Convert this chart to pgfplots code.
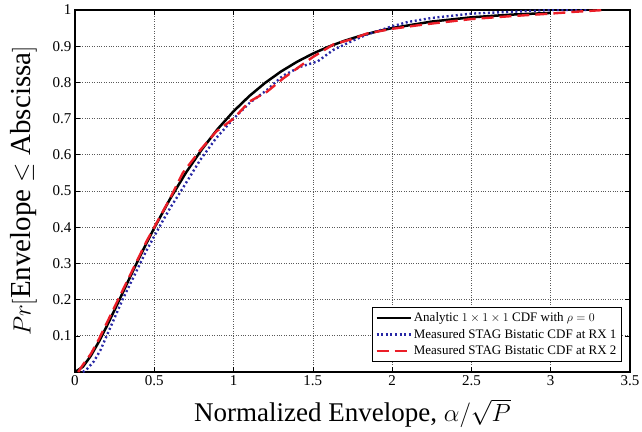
\documentclass[border=0pt]{standalone}
\usepackage{pgfplots}
\pgfplotsset{compat=1.18}
\usepackage{fontspec}
\setmainfont{Liberation Serif}
\definecolor{myblue}{RGB}{40,40,165}
\definecolor{myred}{RGB}{235,30,40}
\begin{document}
\begin{tikzpicture}
\begin{axis}[
  scale only axis,
  width=555pt, height=362pt,
  xmin=0, xmax=3.5, ymin=0, ymax=1,
  xtick={0,0.5,...,3.5},
  xticklabels={0,0.5,1,1.5,2,2.5,3,3.5},
  ytick={0.1,0.2,0.3,0.4,0.5,0.6,0.7,0.8,0.9,1},
  yticklabels={0.1,0.2,0.3,0.4,0.5,0.6,0.7,0.8,0.9,1},
  tick align=inside,
  major tick length=5pt,
  tick style={black, line width=0.6pt},
  xtick pos=both, ytick pos=both,
  grid=major,
  major grid style={dotted, black!65, line width=0.7pt},
  axis line style={line width=1.2pt},
  tick label style={font=\fontsize{15}{18}\selectfont},
  /pgf/number format/assume math mode=true,
  xlabel={Normalized Envelope, $\alpha/\sqrt{P}$},
  ylabel={$Pr\Big[$Envelope $\leq$ Abscissa$\Big]$},
  xlabel style={font=\fontsize{27}{32}\selectfont, inner sep=1pt, yshift=-9pt},
  ylabel style={font=\fontsize{29}{38}\selectfont, yshift=9pt},
  legend style={at={(axis cs:3.45,0.028)}, anchor=south east,
    draw=black, line width=1.2pt, fill=white,
    font=\fontsize{13}{15}\selectfont,
    inner sep=3pt, row sep=2pt,
    legend cell align=left},
  legend image post style={line width=2.4pt},
  legend image code/.code={\draw[#1] (0pt,0pt) -- (34pt,0pt);},
]
\addplot[black, line width=2.5pt] coordinates {
(0,0) (0.05,0.0146) (0.1,0.0448) (0.15,0.0832) (0.2,0.1262) (0.25,0.1718)
(0.3,0.2183) (0.35,0.2648) (0.4,0.3106) (0.45,0.3551) (0.5,0.3981)
(0.6,0.4785) (0.7,0.5509) (0.8,0.6150) (0.9,0.6713) (1.0,0.7202)
(1.1,0.7626) (1.2,0.7991) (1.3,0.8303) (1.4,0.8569) (1.5,0.8795)
(1.6,0.8988) (1.7,0.9150) (1.8,0.9288) (1.9,0.9403) (2.0,0.9501)
(2.25,0.9681) (2.5,0.9798) (2.75,0.9872) (3.0,0.9919)
};
\addlegendentry{Analytic $1\times1\times1$ CDF with $\rho=0$}
\addplot[myblue, line width=2.4pt, dash pattern=on 2pt off 2.6pt] coordinates {
(0.05,0) (0.08,0.01) (0.12,0.03) (0.16,0.06) (0.2,0.1) (0.25,0.15)
(0.3,0.2) (0.35,0.245) (0.4,0.29) (0.45,0.335) (0.5,0.375) (0.55,0.415)
(0.6,0.453) (0.68,0.508) (0.79,0.586) (0.89,0.646) (1.0,0.70) (1.1,0.743)
(1.21,0.779) (1.31,0.818) (1.42,0.843) (1.53,0.858) (1.63,0.89) (1.75,0.915)
(1.84,0.932) (2.0,0.955) (2.1,0.967) (2.25,0.978) (2.5,0.99) (2.75,0.995)
(3.0,1.0) (3.24,1.0)
};
\addlegendentry{Measured STAG Bistatic CDF at RX 1}
\addplot[myred, line width=2.4pt, dash pattern=on 12pt off 6pt] coordinates {
(0.02,0) (0.05,0.02) (0.1,0.05) (0.15,0.09) (0.2,0.135) (0.25,0.18)
(0.3,0.225) (0.35,0.27) (0.4,0.315) (0.45,0.36) (0.5,0.40) (0.6,0.48)
(0.68,0.55) (0.79,0.613) (0.89,0.664) (1.0,0.70) (1.1,0.747) (1.21,0.774)
(1.31,0.81) (1.42,0.845) (1.5,0.87) (1.63,0.905) (1.75,0.92) (1.84,0.935)
(2.0,0.948) (2.2,0.96) (2.5,0.975) (2.75,0.983) (3.0,0.99) (3.15,0.995)
(3.34,1.0)
};
\addlegendentry{Measured STAG Bistatic CDF at RX 2}
\end{axis}
\pgfresetboundingbox
\path ([shift={(-75pt,-59pt)}]current axis.south west) rectangle ([shift={(12pt,10pt)}]current axis.north east);
\end{tikzpicture}
\end{document}
